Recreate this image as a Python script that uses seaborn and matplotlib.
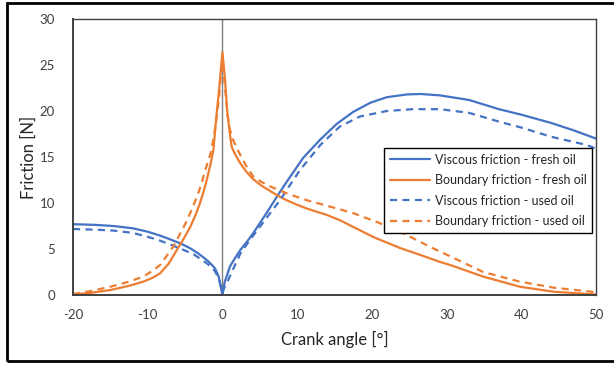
import numpy as np
import pandas as pd
import matplotlib
matplotlib.use("Agg")
import matplotlib.pyplot as plt
import seaborn as sns
from matplotlib.patches import Rectangle

# ---- data ----
visc_fresh_x = [-20, -17, -14.6, -12, -10.1, -8.5, -7.0, -5.6, -4.3, -3.2, -2.1, -1.5, -1.0, -0.5, 0,
                0.3, 0.6, 1.0, 1.6, 2.4, 3.2, 4.1, 5.0, 5.9, 7.3, 8.6, 10.8, 13.1, 15.3, 17.5,
                19.8, 22.0, 24.7, 26.5, 29.1, 33, 37, 40, 44, 47, 50]
visc_fresh_y = [7.7, 7.62, 7.5, 7.25, 6.9, 6.5, 6.05, 5.6, 5.07, 4.5, 3.8, 3.35, 2.9, 2.0, 0.0,
                1.4, 2.1, 3.1, 3.9, 4.9, 5.7, 6.7, 7.8, 8.9, 10.7, 12.3, 14.9, 16.9, 18.6, 19.9,
                20.9, 21.5, 21.8, 21.85, 21.7, 21.2, 20.2, 19.6, 18.7, 17.9, 17.0]

bnd_fresh_x = [-20, -17.5, -15, -12.5, -10.6, -9.4, -8.35, -7.2, -6.1, -5.2, -4.3, -3.6, -3.0,
               -2.5, -2.1, -1.6, -1.2, -0.86, -0.42, 0,
               0.35, 0.66, 1.0, 1.24, 1.7, 2.4, 3.2, 4.1, 5.2, 6.4, 7.5, 8.6, 10.0, 11.3, 12.6,
               14.0, 15.8, 17.5, 20.2, 23.8, 26.5, 29.1, 30.5, 34.9, 39.8, 44.3, 50]
bnd_fresh_y = [0.05, 0.25, 0.54, 1.0, 1.45, 1.85, 2.35, 3.4, 4.9, 6.1, 7.4, 8.7, 10.0,
               11.3, 12.5, 14.2, 15.8, 19.0, 22.6, 26.4,
               23.4, 19.75, 17.5, 16.1, 15.3, 14.3, 13.4, 12.6, 11.9, 11.3, 10.75, 10.3, 9.8, 9.4, 9.05,
               8.7, 8.1, 7.4, 6.3, 5.1, 4.35, 3.6, 3.26, 2.0, 0.9, 0.36, 0.05]

visc_used_x = [-20, -17, -14.6, -12, -10.1, -8.5, -7.0, -5.5, -3.9, -2.8, -1.7, -1.0, -0.5, 0,
               0.3, 0.6, 1.2, 2.4, 3.6, 5.0, 6.3, 7.7, 9.0, 10.4, 13.1, 15.7, 18.4, 22.0,
               25.5, 29.1, 33, 37.2, 40, 44, 48.8, 50]
visc_used_y = [7.17, 7.1, 7.0, 6.75, 6.35, 5.95, 5.5, 5.0, 4.45, 3.85, 3.2, 2.6, 1.8, 0.3,
               0.9, 1.3, 2.4, 4.5, 5.9, 7.4, 8.8, 10.3, 11.9, 13.6, 16.3, 18.3, 19.4, 20.0,
               20.2, 20.2, 19.8, 18.8, 18.2, 17.2, 16.3, 15.9]

bnd_used_x = [-20, -17.5, -15, -12.5, -10.6, -9.4, -8.35, -7.5, -6.6, -5.7, -4.8, -4.1, -3.4,
              -2.8, -2.3, -1.85, -1.45, -0.9, -0.45, 0,
              0.35, 0.7, 1.0, 1.46, 1.9, 2.4, 3.2, 4.1, 5.2, 6.4, 8.6, 11.3, 14.0, 17.5,
              21.1, 24.7, 28.2, 30.5, 34.9, 39.8, 44.3, 50]
bnd_used_y = [0.1, 0.45, 0.9, 1.45, 2.0, 2.6, 3.26, 4.2, 5.25, 6.6, 8.0, 9.3, 10.7,
              12.1, 13.6, 14.7, 15.8, 18.5, 21.5, 26.0,
              22.5, 19.5, 18.0, 16.8, 16.0, 15.2, 14.0, 12.9, 12.3, 11.8, 11.05, 10.3, 9.7, 8.9,
              7.8, 6.5, 5.07, 4.2, 2.5, 1.45, 0.8, 0.3]

labels = ["Viscous friction - fresh oil", "Boundary friction - fresh oil",
          "Viscous friction - used oil", "Boundary friction - used oil"]
x_ticks = [-20, -10, 0, 10, 20, 30, 40, 50]
y_ticks = [0, 5, 10, 15, 20, 25, 30]

BLUE = "#4472C4"
ORANGE = "#ED7D31"

sns.set_style("white")
plt.rcParams["font.family"] = ["Lato", "DejaVu Sans"]

fig = plt.figure(figsize=(6.14, 3.65), dpi=100)
ax = fig.add_axes([73 / 614, 70 / 365, 523 / 614, 276 / 365])

series = [
    (visc_fresh_x, visc_fresh_y, BLUE, "-", labels[0]),
    (bnd_fresh_x, bnd_fresh_y, ORANGE, "-", labels[1]),
    (visc_used_x, visc_used_y, BLUE, "--", labels[2]),
    (bnd_used_x, bnd_used_y, ORANGE, "--", labels[3]),
]
for xs, ys, c, ls, lab in series:
    df = pd.DataFrame({"x": xs, "y": ys})
    kw = dict(dashes=(3.2, 2.4)) if ls == "--" else {}
    sns.lineplot(data=df, x="x", y="y", ax=ax, color=c, linewidth=1.6,
                 label=lab, sort=False, estimator=None, **kw)

ax.axvline(0, color="#7f7f7f", linewidth=1.0, zorder=1)

ax.set_xlim(-20, 50)
ax.set_ylim(0, 30)
ax.set_xticks(x_ticks)
ax.set_yticks(y_ticks)
ax.set_xticklabels([str(t) for t in x_ticks])
ax.set_yticklabels([str(t) for t in y_ticks])
ax.tick_params(axis="x", direction="in", length=4, width=1, colors="#404040",
               labelsize=9.5, pad=10)
ax.tick_params(axis="y", direction="out", length=5, width=1, colors="#404040",
               labelsize=9.5, pad=8)
for s in ax.spines.values():
    s.set_color("#404040")
    s.set_linewidth(1.0)
    s.set_visible(True)
ax.spines["left"].set_linewidth(1.4)
ax.spines["bottom"].set_linewidth(1.4)

ax.set_xlabel("Crank angle [°]", fontsize=12, color="#262626", labelpad=7)
ax.set_ylabel("Friction [N]", fontsize=12, color="#262626", labelpad=2)

leg = ax.legend(loc="upper left", bbox_to_anchor=((384 - 73) / 523, (295 - 148) / 276),
                fontsize=9, frameon=True, fancybox=False, framealpha=1,
                edgecolor="black", handlelength=3.2, borderaxespad=0,
                borderpad=0.45, labelspacing=0.68, handletextpad=0.4)
leg.get_frame().set_linewidth(1.0)

# outer border
fig.patches.append(Rectangle((7 / 614, 4 / 365), 1.1, 358 / 365,
                             transform=fig.transFigure, fill=False,
                             edgecolor="black", linewidth=2.0))

fig.savefig("out.png", dpi=100)
